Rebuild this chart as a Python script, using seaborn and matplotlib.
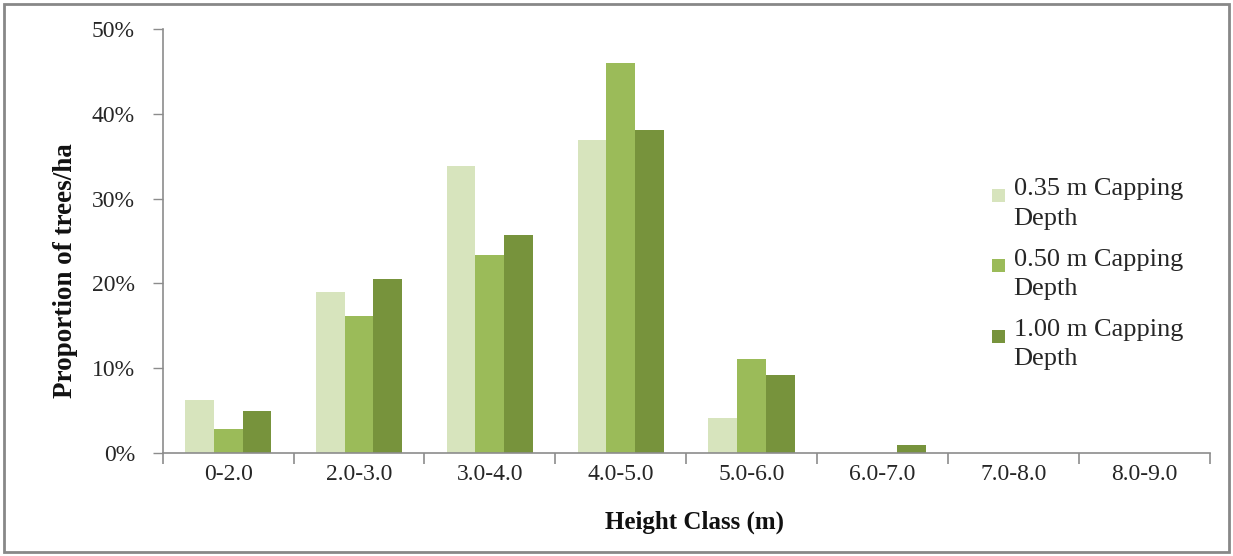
import matplotlib
matplotlib.use("Agg")
import matplotlib.pyplot as plt
import seaborn as sns
import pandas as pd
from matplotlib.patches import Rectangle
from matplotlib.legend_handler import HandlerPatch
from matplotlib.ticker import FuncFormatter, FixedLocator

categories = ["0-2.0", "2.0-3.0", "3.0-4.0", "4.0-5.0", "5.0-6.0", "6.0-7.0", "7.0-8.0", "8.0-9.0"]
series_names = ["0.35 m Capping\nDepth", "0.50 m Capping\nDepth", "1.00 m Capping\nDepth"]
v035 = [6.3, 19.0, 33.8, 36.9, 4.2, 0.0, 0.0, 0.0]
v050 = [2.9, 16.2, 23.3, 46.0, 11.1, 0.0, 0.0, 0.0]
v100 = [5.0, 20.5, 25.7, 38.1, 9.2, 1.0, 0.0, 0.0]
colors = ["#D7E4BD", "#9BBB59", "#77933C"]

rows = []
for name, vals in zip(series_names, [v035, v050, v100]):
    for c, v in zip(categories, vals):
        rows.append({"cat": c, "series": name, "val": v / 100.0})
df = pd.DataFrame(rows)

sns.set_style("white")
plt.rcParams["font.family"] = ["Liberation Serif", "DejaVu Serif"]

fig = plt.figure(figsize=(12.33, 5.56), dpi=100)
ax = fig.add_axes([0.132, 0.185, 0.849, 0.763])

sns.barplot(data=df, x="cat", y="val", hue="series", order=categories,
            hue_order=series_names, palette=colors, width=0.66, saturation=1,
            edgecolor="none", linewidth=0, ax=ax, legend=True)

axis_col = "#8C8C8C"
txt_col = "#262626"
ax.set_ylim(0, 0.5)
ax.set_xlim(-0.5, len(categories) - 0.5)
ax.yaxis.set_major_locator(FixedLocator([0, 0.1, 0.2, 0.3, 0.4, 0.5]))
ax.yaxis.set_major_formatter(FuncFormatter(lambda v, p: f"{v*100:.0f}%"))
ax.tick_params(axis="y", which="major", direction="out", length=7, width=1,
               color=axis_col, labelsize=17, labelcolor=txt_col, pad=13, left=True)
ax.set_xticks(range(len(categories)))
ax.set_xticklabels(categories)
ax.tick_params(axis="x", which="major", length=0, labelsize=17, labelcolor=txt_col, pad=8)
ax.set_xticks([i - 0.5 for i in range(len(categories) + 1)], minor=True)
ax.tick_params(axis="x", which="minor", direction="out", length=8, width=1.2,
               color=axis_col, bottom=True)

for s in ["top", "right"]:
    ax.spines[s].set_visible(False)
for s in ["left", "bottom"]:
    ax.spines[s].set_color(axis_col)
    ax.spines[s].set_linewidth(1.2)

ax.set_xlabel("Height Class (m)", fontsize=18, fontweight="bold", color="#111111")
ax.xaxis.set_label_coords(0.508, -0.136)
ax.set_ylabel("Proportion of trees/ha", fontsize=19.5, fontweight="bold", color="#111111")
ax.yaxis.set_label_coords(-0.081, 0.43)

FS = 19


def top_square(legend, orig_handle, xdescent, ydescent, width, height, fontsize):
    s = 9.4
    return Rectangle((-xdescent, -ydescent + height - s - 6.5), s, s)


handles, labels = ax.get_legend_handles_labels()
leg = ax.legend(handles, labels, loc="upper left", bbox_to_anchor=(0.8045, 0.679),
                bbox_transform=fig.transFigure, frameon=False, fontsize=FS,
                handlelength=0.5, handleheight=2.5, handletextpad=0.32,
                labelspacing=0.72, borderpad=0, borderaxespad=0,
                handler_map={h: HandlerPatch(patch_func=top_square) for h in handles})
for t in leg.get_texts():
    t.set_linespacing(1.43)
    t.set_color(txt_col)

fig.patches.append(Rectangle((0.003, 0.008), 0.994, 0.985, transform=fig.transFigure,
                             fill=False, edgecolor="#888888", linewidth=2))

fig.savefig("out.png", dpi=100)
